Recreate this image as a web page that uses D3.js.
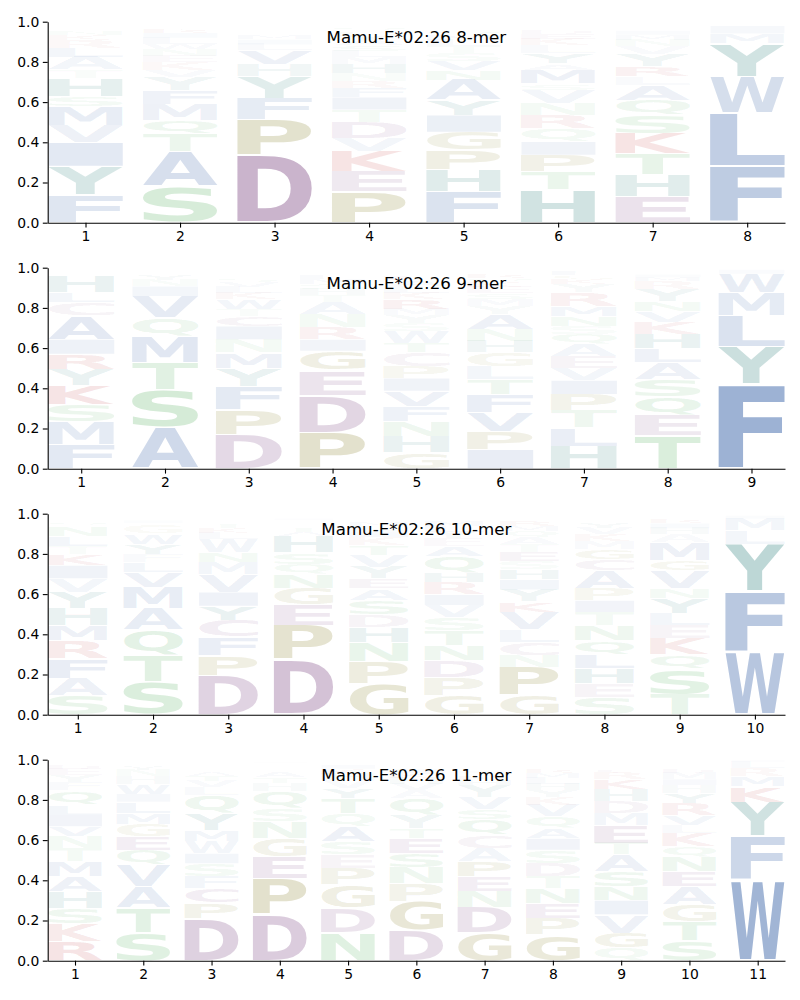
<!DOCTYPE html>
<html>
<head>
  <meta charset="utf-8" />
  <script src="https://d3js.org/d3.v7.min.js"></script>
  <style>
    body { margin: 0; background: #fff; }
    svg { font-family: 'DejaVu Sans', sans-serif; }
  </style>
</head>
<body>
<svg id="logos" width="800" height="1000"></svg>
<script>
  // panel titles
  const titles = ["Mamu-E*02:26 8-mer", "Mamu-E*02:26 9-mer", "Mamu-E*02:26 10-mer", "Mamu-E*02:26 11-mer"];

  // letters per position, bottom to top, with their heights (frequency)
  const letters8 = ["FYIVMSHTALRKNQEDG", "SATQMFYVKENWLIRDG", "DPFYHVLIMSTKNEQG", "PEKVDTIFRNHMLSAYGQW",
    "FHPGIYANVSTLMQEKDR", "HTPIQRNVSMAYLKEDGFW", "EHTKSQALRYVNMIDFGP", "FLWYMIVHK"];
  const heights8 = [
    [.138, .142, .12, .086, .094, .05, .09, .04, .065, .045, .04, .025, .02, .015, .012, .01, .008],
    [.18, .173, .088, .07, .079, .07, .066, .034, .04, .03, .035, .025, .03, .025, .02, .015, .015],
    [.337, .177, .106, .106, .06, .07, .03, .025, .02, .015, .012, .01, .01, .008, .006, .005],
    [.154, .10, .099, .067, .08, .062, .063, .045, .035, .04, .045, .035, .03, .03, .025, .025, .02, .02, .015],
    [.154, .111, .097, .088, .085, .075, .10, .05, .045, .04, .035, .03, .025, .02, .015, .012, .01, .008],
    [.163, .091, .083, .066, .067, .066, .059, .066, .03, .07, .03, .05, .04, .03, .025, .02, .015, .015, .01],
    [.13, .11, .105, .099, .092, .074, .075, .042, .049, .064, .04, .03, .025, .02, .015, .015, .01, .005],
    [.279, .265, .182, .166, .048, .04, .01, .005, .004]
  ];

  const letters9 = ["FMSKYRIACLHTNQE", "ASTMQVINYLEGRK", "DPFYMNICTWKLVSAEGQH", "PDEGIRNATHSMLKVY",
    "GHNFVIPCTWSYMRKLAEQD", "IPVFTLGHNAYMSEKQRDW", "HLTPIVEAQSNMRYKGFDW", "TEQSALHKVNYRMIGFPD", "FYLMWIVH"];
  const heights9 = [
    [.12, .112, .088, .095, .079, .076, .073, .117, .066, .05, .08, .015, .01, .008, .006],
    [.204, .191, .135, .13, .09, .108, .05, .03, .025, .01, .008, .006, .005, .004],
    [.17, .125, .115, .09, .077, .066, .066, .05, .033, .05, .03, .03, .025, .02, .015, .012, .01, .008, .006],
    [.18, .185, .125, .095, .058, .058, .066, .06, .035, .03, .025, .025, .02, .015, .015, .01],
    [.08, .08, .077, .073, .076, .064, .06, .067, .046, .06, .04, .04, .03, .05, .03, .035, .03, .02, .015, .015],
    [.096, .091, .093, .09, .074, .066, .067, .058, .058, .075, .04, .035, .03, .03, .025, .02, .02, .015, .01],
    [.113, .091, .086, .08, .07, .06, .06, .06, .05, .04, .05, .05, .066, .04, .025, .02, .02, .01, .005],
    [.166, .099, .093, .086, .083, .07, .071, .062, .054, .05, .058, .04, .02, .015, .01, .008, .006, .005],
    [.42, .187, .156, .113, .094, .02, .005, .003]
  ];

  const letters10 = ["SAFRMHYVIKTLNQEDGP", "STQAMVLFYWGKINERD", "DPFCYIVMNWLKTSGAEQ", "DPEGNQSHATKLVIMYF",
    "GPNHDSAEYVTKILMQRFW", "GPDNTSVIRHQAEYLMFKW", "GPNCLVKYIHSETAQMRDFW", "SEHLQNTIPACGMKVYRDF",
    "TSQKELYNVGMAHIRDFP", "WFYLMIV"];
  const heights10 = [
    [.096, .086, .098, .09, .074, .086, .08, .067, .066, .057, .04, .05, .05, .02, .015, .01, .008, .005],
    [.163, .132, .125, .11, .105, .075, .05, .04, .05, .05, .04, .015, .012, .01, .008, .005, .005],
    [.196, .099, .091, .084, .07, .07, .09, .058, .05, .066, .03, .025, .02, .015, .01, .01, .008, .006],
    [.275, .169, .103, .083, .07, .05, .058, .08, .02, .02, .015, .015, .01, .008, .006, .005, .004],
    [.154, .111, .095, .076, .064, .07, .057, .05, .058, .058, .05, .04, .03, .025, .02, .015, .01, .008, .005],
    [.096, .091, .083, .075, .075, .066, .058, .053, .06, .05, .08, .05, .04, .03, .03, .025, .015, .01, .008],
    [.096, .141, .06, .065, .06, .09, .05, .06, .05, .05, .04, .045, .04, .035, .03, .025, .025, .015, .01, .008],
    [.088, .066, .076, .07, .07, .074, .066, .058, .058, .09, .058, .05, .04, .035, .03, .025, .015, .01, .008],
    [.10, .13, .07, .078, .066, .058, .075, .05, .09, .05, .09, .04, .03, .025, .02, .01, .008, .005],
    [.312, .302, .236, .067, .058, .015, .005]
  ];

  const letters11 = ["RKSHAMTNVILQFYEDGC", "STAVQEGMLIWHNYKRF", "DPCFSIWMYQLVTAHNEGK", "DPEGNSQHTAKRLVI",
    "NDGPESAQTYVHKILM", "DGPNSETYQAVHKILMRF", "GDNEPACQSVYHKTILM", "GPENTDSIAQVKYHLMRFWC",
    "QGVINSATEMDHKRCYLFP", "STGAENQKLVRYHIMDFCPW", "WFYKMRLI"];
  const heights11 = [
    [.096, .091, .075, .083, .075, .074, .066, .058, .05, .058, .05, .07, .04, .035, .03, .02, .015, .01],
    [.138, .127, .105, .107, .073, .07, .06, .055, .055, .04, .05, .04, .03, .02, .01, .008, .005],
    [.209, .078, .073, .058, .066, .05, .06, .055, .083, .09, .04, .03, .025, .02, .015, .012, .01, .008, .006],
    [.229, .181, .11, .09, .083, .066, .083, .04, .03, .025, .015, .012, .01, .008, .006],
    [.138, .124, .116, .082, .067, .066, .075, .066, .075, .05, .04, .03, .025, .02, .015, .01],
    [.15, .145, .091, .078, .07, .075, .05, .066, .083, .04, .03, .03, .025, .02, .015, .01, .01, .008],
    [.138, .127, .08, .075, .074, .066, .066, .075, .05, .06, .064, .025, .02, .015, .01, .008, .008],
    [.13, .082, .075, .073, .058, .066, .066, .058, .05, .058, .058, .04, .035, .03, .03, .025, .02, .015, .01, .01],
    [.063, .075, .091, .071, .07, .074, .083, .058, .091, .058, .058, .06, .05, .03, .02, .015, .01, .008, .005],
    [.10, .096, .084, .09, .074, .075, .05, .066, .04, .05, .058, .05, .04, .03, .03, .02, .015, .01, .01, .008],
    [.403, .217, .17, .077, .05, .04, .03, .01]
  ];

  const panels = [
    { title: titles[0], letters: letters8, heights: heights8 },
    { title: titles[1], letters: letters9, heights: heights9 },
    { title: titles[2], letters: letters10, heights: heights10 },
    { title: titles[3], letters: letters11, heights: heights11 }
  ];

  // colour groups
  const colorOf = {};
  "AFILMVW".split("").forEach(c => colorOf[c] = "#4c72b0");
  "DEC".split("").forEach(c => colorOf[c] = "#86548c");
  "PG".split("").forEach(c => colorOf[c] = "#88802a");
  "STNQ".split("").forEach(c => colorOf[c] = "#55af5f");
  "KR".split("").forEach(c => colorOf[c] = "#be2d32");
  "HY".split("").forEach(c => colorOf[c] = "#287d78");

  // tight glyph boxes, measured once per letter
  const ctx = document.createElement("canvas").getContext("2d");
  ctx.font = "bold 100px 'DejaVu Sans'";
  const metrics = {};
  function glyph(ch) {
    if (!metrics[ch]) {
      const m = ctx.measureText(ch);
      metrics[ch] = { l: m.actualBoundingBoxLeft, r: m.actualBoundingBoxRight,
                      a: m.actualBoundingBoxAscent, d: m.actualBoundingBoxDescent };
    }
    return metrics[ch];
  }

  const svg = d3.select("#logos");
  const left = 47.7, right = 785, plotH = 201;
  const letterWidth = 0.79, vpad = 0.05;

  panels.forEach((p, i) => {
    const top = 21.7 + 246 * i;
    const n = p.letters.length;
    const x = d3.scaleLinear().domain([0.6, n + 0.4]).range([left, right]);
    const y = d3.scaleLinear().domain([0, 1]).range([top + plotH, top]);
    const g = svg.append("g");

    const stack = [];
    p.letters.forEach((str, j) => {
      let base = 0;
      str.split("").forEach((ch, k) => {
        const h = p.heights[j][k];
        stack.push({ pos: j + 1, ch: ch, y0: base, h: h });
        base += h;
      });
    });

    g.selectAll("text.letter").data(stack).join("text")
      .attr("class", "letter")
      .attr("font-size", 100)
      .attr("font-weight", "bold")
      .attr("fill", d => colorOf[d.ch])
      .attr("fill-opacity", d => Math.min(1, 1.3 * d.h))
      .attr("transform", d => {
        const m = glyph(d.ch);
        const x0 = x(d.pos - letterWidth / 2), x1 = x(d.pos + letterWidth / 2);
        const yTop = y(d.y0 + d.h * (1 - vpad / 2)), yBot = y(d.y0 + d.h * vpad / 2);
        const sx = (x1 - x0) / (m.l + m.r), sy = (yBot - yTop) / (m.a + m.d);
        return `translate(${x0},${yTop}) scale(${sx},${sy}) translate(${m.l},${m.a})`;
      })
      .text(d => d.ch);

    const yAxis = g.append("g").attr("transform", `translate(${left},0)`)
      .call(d3.axisLeft(y).tickValues([0, 0.2, 0.4, 0.6, 0.8, 1]).tickFormat(d3.format(".1f"))
        .tickSize(4.9).tickPadding(3.5).tickSizeOuter(0));
    const xAxis = g.append("g").attr("transform", `translate(0,${top + plotH})`)
      .call(d3.axisBottom(x).tickValues(d3.range(1, n + 1)).tickFormat(d3.format("d"))
        .tickSize(4.9).tickPadding(3.5).tickSizeOuter(0));
    [yAxis, xAxis].forEach(a => {
      a.attr("font-size", 13.9).attr("font-family", "'DejaVu Sans', sans-serif");
      a.selectAll("path, line").attr("stroke", "#000").attr("stroke-width", 1.1);
      a.selectAll("text").attr("fill", "#000");
    });

    g.append("text")
      .attr("x", (left + right) / 2)
      .attr("y", top + 21)
      .attr("text-anchor", "middle")
      .attr("font-size", 16.67)
      .attr("fill", "#000")
      .text(p.title);
  });
</script>
</body>
</html>
